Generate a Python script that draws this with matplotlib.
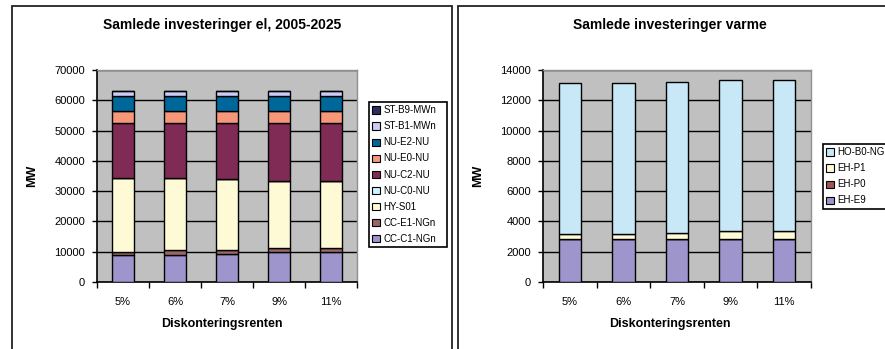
import matplotlib
matplotlib.use("Agg")
import matplotlib.pyplot as plt
from matplotlib.patches import Patch, Rectangle
import numpy as np

plt.rcParams['font.family'] = ['Liberation Sans', 'DejaVu Sans']

rates = ["5%", "6%", "7%", "9%", "11%"]

# Electricity investments (MW), stacked bottom to top
el_names = ["CC-C1-NGn", "CC-E1-NGn", "HY-S01", "NU-C0-NU", "NU-C2-NU",
            "NU-E0-NU", "NU-E2-NU", "ST-B1-MWn", "ST-B9-MWn"]
cc_c1 = [8900, 8900, 9250, 10000, 10000]
cc_e1 = [1100, 1550, 1200, 1200, 1200]
hy_s01 = [24400, 23950, 23500, 22100, 22100]
nu_c0 = [0, 0, 0, 0, 0]
nu_c2 = [18100, 18100, 18550, 19200, 19200]
nu_e0 = [3950, 3950, 3950, 3950, 3950]
nu_e2 = [4850, 4850, 4850, 4850, 4850]
st_b1 = [1700, 1700, 1700, 1700, 1700]
st_b9 = [0, 0, 0, 0, 0]
el_series = [cc_c1, cc_e1, hy_s01, nu_c0, nu_c2, nu_e0, nu_e2, st_b1, st_b9]
el_colors = ["#9D95CB", "#9C6666", "#FFFAD6", "#CCF2FF", "#802B56",
             "#F7977A", "#00679B", "#CCCCF5", "#2E2E5E"]

# Heat investments (MW), stacked bottom to top
heat_names = ["EH-E9", "EH-P0", "EH-P1", "HO-B0-NG"]
eh_e9 = [2840, 2840, 2840, 2840, 2840]
eh_p0 = [0, 0, 0, 0, 0]
eh_p1 = [330, 330, 420, 510, 510]
ho_b0 = [9980, 9980, 9980, 9960, 10020]
heat_series = [eh_e9, eh_p0, eh_p1, ho_b0]
heat_colors = ["#9D95CB", "#9C5555", "#FFFAD6", "#C8E8F7"]

W, H = 885, 349
fig = plt.figure(figsize=(W / 100, H / 100), dpi=100)


def fx(px):
    return px / W


def fy(py):
    return 1 - py / H


def panel(ax_left, ax_right, series, names, colors, ymax, ystep, title,
          title_x, leg_box, box_left, box_right):
    # panel frame
    fig.add_artist(Rectangle((fx(box_left), fy(H + 20)),
                             fx(box_right - box_left), fy(6) - fy(H + 20),
                             transform=fig.transFigure, fill=False,
                             edgecolor="#222222", linewidth=1.3))
    ax = fig.add_axes([fx(ax_left), fy(282), fx(ax_right - ax_left), fy(70) - fy(282)])
    ax.set_facecolor("#C0C0C0")
    x = np.arange(len(rates))
    bottom = np.zeros(len(rates))
    handles = []
    for vals, name, col in zip(series, names, colors):
        v = np.array(vals, dtype=float)
        ax.bar(x, v, width=0.42, bottom=bottom, color=col, edgecolor="black",
               linewidth=1.0, zorder=3)
        bottom += v
        handles.append(Patch(facecolor=col, edgecolor="black", linewidth=0.8, label=name))
    ax.set_xlim(-0.5, len(rates) - 0.5)
    ax.set_ylim(0, ymax)
    ax.set_yticks(np.arange(0, ymax + 1, ystep))
    ax.set_yticklabels([str(int(t)) for t in np.arange(0, ymax + 1, ystep)])
    ax.yaxis.grid(True, color="black", linewidth=1.0, zorder=1)
    ax.set_axisbelow(True)
    ax.set_xticks(x)
    ax.set_xticklabels(rates)
    ax.set_xticks(np.arange(-0.5, len(rates)), minor=True)
    ax.tick_params(axis="x", which="major", length=0, pad=11, labelsize=8)
    ax.tick_params(axis="x", which="minor", length=4, width=1.0, direction="out")
    ax.tick_params(axis="y", length=3.5, width=1.0, direction="out", pad=5, labelsize=8)
    for s in ("top", "right"):
        ax.spines[s].set_color("#909090")
        ax.spines[s].set_linewidth(1.0)
    for s in ("left", "bottom"):
        ax.spines[s].set_color("black")
        ax.spines[s].set_linewidth(1.2)
    ax.set_ylabel("MW", fontsize=9, fontweight="bold", labelpad=12)
    fig.text(fx(title_x), fy(324), "Diskonteringsrenten", ha="center",
             va="center", fontsize=9, fontweight="bold")
    fig.text(fx(title_x), fy(25), title, ha="center",
             va="center", fontsize=10, fontweight="bold")
    lx0, ly0, lx1 = leg_box
    leg = fig.legend(handles[::-1], [h.get_label() for h in handles[::-1]],
                     loc="upper left",
                     bbox_to_anchor=(fx(lx0), fy(ly0) - 0.2, fx(lx1 - lx0), 0.2),
                     mode="expand",
                     fontsize=7, frameon=True, fancybox=False, framealpha=1,
                     edgecolor="black", handlelength=0.75, handleheight=0.75,
                     handletextpad=0.4, labelspacing=0.62, borderpad=0.35,
                     borderaxespad=0)
    leg.get_frame().set_linewidth(1.2)
    return ax


panel(97, 357, el_series, el_names, el_colors, 70000, 10000,
      "Samlede investeringer el, 2005-2025", 222, (369, 102, 447), 12, 452)
panel(543, 811, heat_series, heat_names, heat_colors, 14000, 2000,
      "Samlede investeringer varme", 670, (823, 144, 895), 458, 920)

fig.savefig("out.png", dpi=100)
